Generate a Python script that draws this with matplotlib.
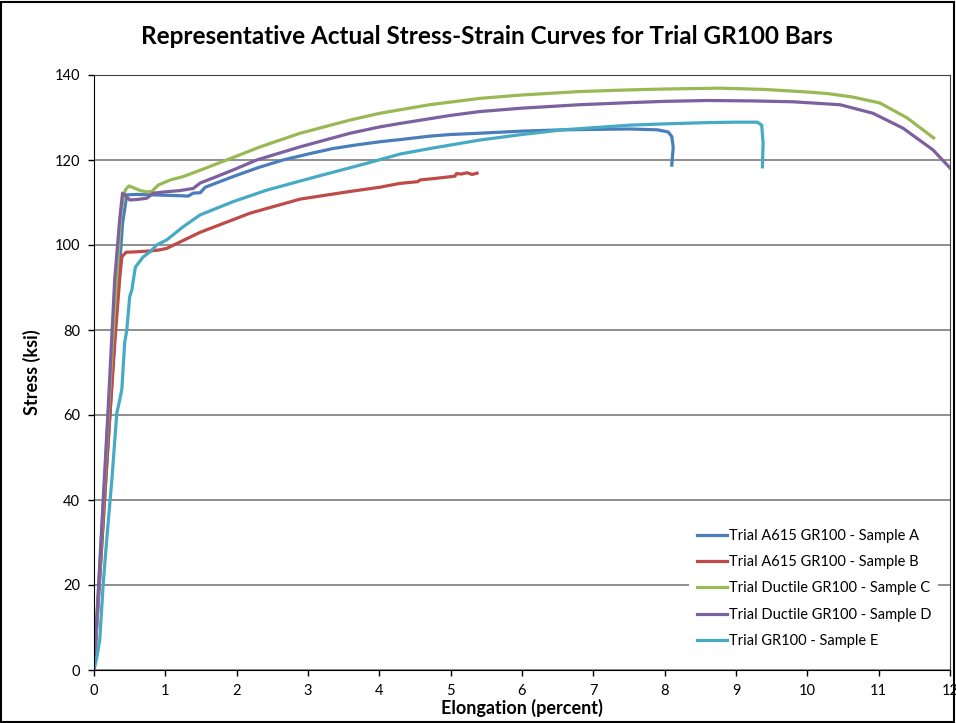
import matplotlib
matplotlib.use('Agg')
import matplotlib.pyplot as plt

plt.rcParams['font.family'] = ['Lato', 'DejaVu Sans']

# --- data (elongation %, stress ksi) ---
a_x = [0, 0.1, 0.2, 0.3, 0.4, 0.46, 0.6, 0.8, 1.0, 1.2, 1.32, 1.39, 1.49, 1.56, 1.95, 2.3, 2.65, 3.0, 3.35,
       3.7, 4.01, 4.29, 4.7, 5.0, 5.41, 6.0, 6.57, 7.0, 7.51, 7.9, 8.05, 8.1, 8.12, 8.11, 8.1]
a_y = [0, 27, 54, 81, 105, 111.8, 111.9, 111.8, 111.7, 111.6, 111.5, 112.2, 112.3, 113.6, 116.1, 118.2, 120.0,
       121.4, 122.7, 123.6, 124.3, 124.8, 125.6, 126.0, 126.3, 126.8, 127.1, 127.2, 127.3, 127.1, 126.6, 125.5,
       123.0, 121.0, 118.8]

b_x = [0, 0.1, 0.2, 0.3, 0.36, 0.39, 0.45, 0.6, 0.78, 0.9, 1.02, 1.49, 2.19, 2.89, 3.59, 4.01, 4.29, 4.54,
       4.57, 4.8, 5.06, 5.08, 5.15, 5.23, 5.3, 5.37]
b_y = [0, 27, 54, 79, 92, 97.2, 98.3, 98.4, 98.6, 98.8, 99.2, 103.0, 107.5, 110.8, 112.6, 113.6, 114.5, 114.9,
       115.3, 115.7, 116.2, 116.8, 116.7, 117.0, 116.6, 116.9]

c_x = [0, 0.1, 0.2, 0.3, 0.38, 0.44, 0.49, 0.55, 0.65, 0.74, 0.81, 0.9, 1.07, 1.25, 1.49, 1.86, 2.33, 2.89,
       3.59, 4.01, 4.7, 5.41, 6.0, 6.8, 7.51, 8.0, 8.78, 9.4, 10.0, 10.3, 10.64, 11.02, 11.4, 11.77]
c_y = [0, 30, 60, 88, 108, 113.0, 113.9, 113.5, 112.8, 112.5, 112.6, 114.1, 115.3, 116.1, 117.6, 120.0, 123.1,
       126.3, 129.4, 131.0, 133.0, 134.5, 135.3, 136.1, 136.5, 136.7, 136.9, 136.6, 136.0, 135.6, 134.8, 133.4,
       129.9, 125.2]

d_x = [0, 0.1, 0.2, 0.29, 0.36, 0.4, 0.45, 0.5, 0.6, 0.74, 0.83, 1.0, 1.2, 1.39, 1.49, 1.72, 2.0, 2.28, 2.89,
       3.59, 4.01, 4.29, 5.0, 5.41, 6.0, 6.8, 7.51, 8.0, 8.6, 9.24, 9.8, 10.46, 10.92, 11.34, 11.76, 12.03]
d_y = [0, 31, 62, 91.8, 106, 112.2, 111.5, 110.6, 110.7, 111.0, 112.2, 112.5, 112.8, 113.3, 114.6, 116.1, 118.0,
       120.0, 123.1, 126.3, 127.8, 128.6, 130.5, 131.4, 132.2, 133.0, 133.5, 133.8, 134.0, 133.9, 133.7, 133.0,
       131.0, 127.5, 122.4, 117.6]

e_x = [0, 0.04, 0.08, 0.13, 0.18, 0.25, 0.32, 0.36, 0.39, 0.43, 0.46, 0.5, 0.53, 0.58, 0.69, 0.785, 0.88,
       1.02, 1.25, 1.49, 1.95, 2.42, 3.12, 3.82, 4.29, 4.71, 5.41, 6.0, 6.57, 7.0, 7.51, 8.0, 8.6, 9.0, 9.3,
       9.36, 9.38, 9.37]
e_y = [0, 3, 7, 20.5, 31, 44.7, 60.5, 63.5, 66, 77, 80, 87.8, 89.4, 94.8, 97.2, 98.4, 100.0, 101.2, 104.3, 107.1,
       110.2, 112.9, 116.1, 119.2, 121.4, 122.7, 124.7, 126.0, 127.1, 127.6, 128.2, 128.5, 128.8, 128.9, 128.9,
       128.2, 124.0, 118.4]

series = [
    (a_x, a_y, 'Trial A615 GR100 - Sample A', '#4a7ebb'),
    (b_x, b_y, 'Trial A615 GR100 - Sample B', '#be4b48'),
    (c_x, c_y, 'Trial Ductile GR100 - Sample C', '#98b954'),
    (d_x, d_y, 'Trial Ductile GR100 - Sample D', '#7d60a0'),
    (e_x, e_y, 'Trial GR100 - Sample E', '#46aac5'),
]

x_ticks = list(range(0, 13))
y_ticks = list(range(0, 141, 20))

fig = plt.figure(figsize=(9.56, 7.23), dpi=100)
ax = fig.add_axes([94 / 956, 53 / 723, 856 / 956, 595 / 723])

for xs, ys, name, col in series:
    ax.plot(xs, ys, color=col, lw=2.3, label=name, solid_joinstyle='round')

ax.set_xlim(0, 12)
ax.set_ylim(0, 140)
ax.set_xticks(x_ticks)
ax.set_yticks(y_ticks)
ax.yaxis.grid(True, color='#868686', lw=1.3)
ax.set_axisbelow(True)
ax.tick_params(axis='both', direction='out', length=4, width=1, labelsize=10.5, pad=6)
for s in ['left', 'bottom']:
    ax.spines[s].set_color('black')
for s in ['top', 'right']:
    ax.spines[s].set_color('#404040')

ax.set_xlabel('Elongation (percent)', fontsize=13, fontweight='bold', labelpad=1)
ax.set_ylabel('Stress (ksi)', fontsize=13, fontweight='bold', labelpad=10)
fig.text(0.509, 0.949, 'Representative Actual Stress-Strain Curves for Trial GR100 Bars',
         ha='center', va='center', fontsize=17.5, fontweight='bold')

leg = ax.legend(loc='lower right', bbox_to_anchor=(0.995, 0.012), frameon=True, fontsize=10.5,
                handlelength=2.1, handletextpad=0.1, labelspacing=0.85, borderpad=0.5)
leg.get_frame().set_edgecolor('none')
leg.get_frame().set_facecolor('white')
leg.get_frame().set_alpha(1)

fig.patches.append(plt.Rectangle((0.001, 0.002), 0.997, 0.995, transform=fig.transFigure,
                                 fill=False, edgecolor='black', lw=1.5))

fig.savefig('out.png', dpi=100)
